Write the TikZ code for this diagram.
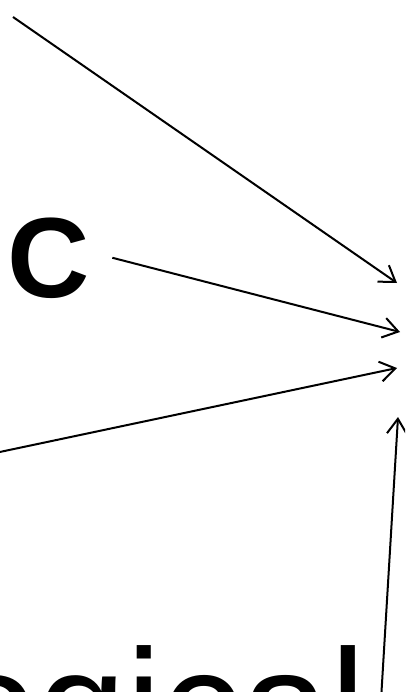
\documentclass[tikz,border=0pt]{standalone}
\usepackage{fontspec}
\setmainfont{Liberation Sans}
\usetikzlibrary{arrows.meta, positioning}

\begin{document}
\begin{tikzpicture}[x=1pt, y=-1pt, line width=2pt, >={Straight Barb[length=15pt,width=20pt]}]
\useasboundingbox (0,0) rectangle (405,692);
\clip (0,0) rectangle (405,692);
\node[font=\fontsize{114}{114}\selectfont\bfseries, inner xsep=22pt, inner ysep=0pt, anchor=base west] (cnode) at (-16,297) {C};
\node[font=\fontsize{160}{160}\selectfont, inner sep=0pt, anchor=base east] (logical) at (367.5,761) {ogical};
\coordinate (srcA) at (13,17);
\coordinate (srcB) at (-5,453);
\coordinate (srcD) at (381,700);
\coordinate (tgtA) at (397,283);
\coordinate (tgtC) at (400,332);
\coordinate (tgtB) at (397,368);
\coordinate (tgtD) at (398,417);
\draw[->] (srcA) -- (tgtA);
\draw[->] (cnode.east) -- (tgtC);
\draw[->] (srcB) -- (tgtB);
\draw[->] (srcD) -- (tgtD);
\end{tikzpicture}
\end{document}
